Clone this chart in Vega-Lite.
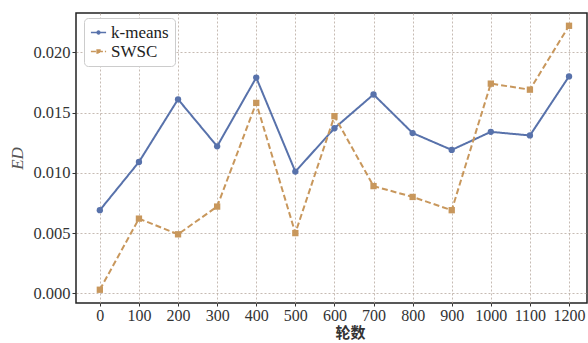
{
  "$schema": "https://vega.github.io/schema/vega-lite/v6.json",
  "width": 511,
  "height": 290,
  "autosize": {"type": "none"},
  "padding": {"left": 76, "top": 13, "right": 1, "bottom": 40},
  "background": "white",
  "config": {
    "view": {"stroke": "#222", "strokeWidth": 1.5},
    "axis": {
      "gridColor": "#b8aaa0",
      "gridDash": [2, 2],
      "gridWidth": 0.8,
      "domain": false,
      "tickColor": "#333",
      "tickSize": 4
    }
  },
  "data": {
    "values": [
      {"round": 0, "series": "k-means", "ED": 0.0069},
      {"round": 100, "series": "k-means", "ED": 0.0109},
      {"round": 200, "series": "k-means", "ED": 0.0161},
      {"round": 300, "series": "k-means", "ED": 0.0122},
      {"round": 400, "series": "k-means", "ED": 0.0179},
      {"round": 500, "series": "k-means", "ED": 0.0101},
      {"round": 600, "series": "k-means", "ED": 0.0137},
      {"round": 700, "series": "k-means", "ED": 0.0165},
      {"round": 800, "series": "k-means", "ED": 0.0133},
      {"round": 900, "series": "k-means", "ED": 0.0119},
      {"round": 1000, "series": "k-means", "ED": 0.0134},
      {"round": 1100, "series": "k-means", "ED": 0.0131},
      {"round": 1200, "series": "k-means", "ED": 0.0180},
      {"round": 0, "series": "SWSC", "ED": 0.0003},
      {"round": 100, "series": "SWSC", "ED": 0.0062},
      {"round": 200, "series": "SWSC", "ED": 0.0049},
      {"round": 300, "series": "SWSC", "ED": 0.0072},
      {"round": 400, "series": "SWSC", "ED": 0.0158},
      {"round": 500, "series": "SWSC", "ED": 0.0050},
      {"round": 600, "series": "SWSC", "ED": 0.0147},
      {"round": 700, "series": "SWSC", "ED": 0.0089},
      {"round": 800, "series": "SWSC", "ED": 0.0080},
      {"round": 900, "series": "SWSC", "ED": 0.0069},
      {"round": 1000, "series": "SWSC", "ED": 0.0174},
      {"round": 1100, "series": "SWSC", "ED": 0.0169},
      {"round": 1200, "series": "SWSC", "ED": 0.0222}
    ]
  },
  "encoding": {
    "x": {
      "field": "round", "type": "quantitative",
      "scale": {"domain": [-61, 1246], "nice": false, "zero": false},
      "axis": {"values": [0,100,200,300,400,500,600,700,800,900,1000,1100,1200], "format": "d",
        "labelFont": "Liberation Serif", "labelFontSize": 16, "labelColor": "#333", "labelPadding": 1, "tickSize": 3,
        "title": "轮数", "titleFont": "Noto Sans CJK SC", "titleFontSize": 15, "titleFontWeight": "bold", "titleColor": "#333",
        "titleX": 274, "titleY": 22, "titleAlign": "center", "titleBaseline": "top"}
    },
    "y": {
      "field": "ED", "type": "quantitative",
      "scale": {"domain": [-0.0008, 0.02326], "nice": false, "zero": false},
      "axis": {"values": [0, 0.005, 0.01, 0.015, 0.02], "format": ".3f",
        "labelFont": "Liberation Serif", "labelFontSize": 16.5, "labelColor": "#333", "labelPadding": 2,
        "title": "ED", "titleFont": "Liberation Serif", "titleFontStyle": "italic", "titleFontWeight": "normal", "titleFontSize": 17, "titleColor": "#555", "titlePadding": 6}
    },
    "color": {
      "field": "series", "type": "nominal",
      "scale": {"domain": ["k-means", "SWSC"], "range": ["#5872ab", "#c8975c"]},
      "legend": {
        "title": null,
        "orient": "none",
        "legendX": 8,
        "legendY": 5,
        "fillColor": "white",
        "strokeColor": "#ccc",
        "cornerRadius": 4,
        "padding": 6,
        "labelFont": "Liberation Serif",
        "labelFontSize": 17,
        "labelColor": "#222",
        "symbolType": "M-1.6,0H1.6M-0.3,0A0.3,0.3 0 1 1 0.3,0A0.3,0.3 0 1 1 -0.3,0Z",
        "symbolSize": 90,
        "symbolStrokeWidth": 1.5,
        "rowPadding": 1,
        "labelOffset": 4,
        "encode": {
          "symbols": {
            "update": {
              "shape": {"signal": "datum.value === 'k-means' ? 'M-1.6,0H1.6M-0.3,0A0.3,0.3 0 1 1 0.3,0A0.3,0.3 0 1 1 -0.3,0Z' : 'M-1.6,0H1.6M-0.3,-0.3H0.3V0.3H-0.3Z'"},
              "strokeDash": {"signal": "datum.value === 'k-means' ? [1, 0] : [5, 2]"},
              "fill": {"signal": "datum.value === 'k-means' ? '#5872ab' : '#c8975c'"},
              "stroke": {"signal": "datum.value === 'k-means' ? '#5872ab' : '#c8975c'"},
              "opacity": {"value": 1}
            }
          }
        }
      }
    }
  },
  "layer": [
    {
      "mark": {"type": "line", "strokeWidth": 2},
      "encoding": {
        "strokeDash": {"condition": {"test": "datum.series === 'SWSC'", "value": [6, 3]}, "value": [1, 0]}
      }
    },
    {
      "mark": {"type": "point", "filled": true, "opacity": 1, "size": 40},
      "encoding": {
        "shape": {"condition": {"test": "datum.series === 'SWSC'", "value": "square"}, "value": "circle"}
      }
    }
  ]
}
